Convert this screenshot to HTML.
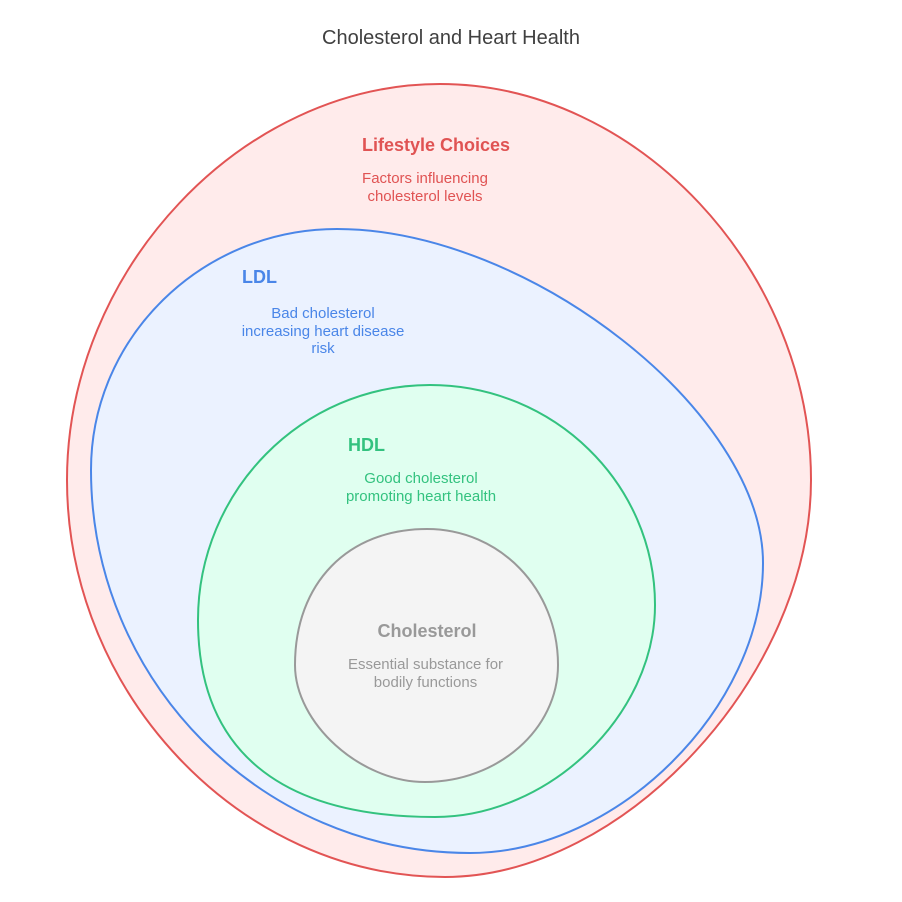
<!DOCTYPE html>
<html>
<head>
<meta charset="utf-8">
<style>
  html, body { margin: 0; padding: 0; background: #ffffff; }
  svg { display: block; }
  text { font-family: "Liberation Sans", Arial, sans-serif; }
</style>
</head>
<body>
<svg width="902" height="902" viewBox="0 0 902 902" xmlns="http://www.w3.org/2000/svg">
  <rect width="902" height="902" fill="#ffffff"/>

  <text x="451" y="44" font-size="20" fill="#404040" text-anchor="middle">Cholesterol and Heart Health</text>

  <!-- Lifestyle Choices (red) -->
  <path d="M440,84 C637,84 811,270 811,480 C811,675 624,877 445,877 C241,877 67,694 67,480 C67,270 242,84 440,84 Z"
        fill="#FFEBEB" stroke="#E25454" stroke-width="2"/>

  <!-- LDL (blue) -->
  <path d="M337,229 C529,229 763,413 763,563 C763,708 617,853 470,853 C262,853 91,681 91,470 C91,337 202,229 337,229 Z"
        fill="#EBF2FF" stroke="#4A86E8" stroke-width="2"/>

  <!-- HDL (green) -->
  <path d="M430,385 C554,385 655,484 655,605 C655,715 549,817 435,817 C279,817 198,750 198,620 C198,491 302,385 430,385 Z"
        fill="#E0FFF0" stroke="#33C27F" stroke-width="2"/>

  <!-- Cholesterol (gray) -->
  <path d="M427,529 C500,529 558,589 558,665 C558,729 498,782 425,782 C360,782 295,723 295,665 C295,583 348,529 427,529 Z"
        fill="#F4F4F4" stroke="#999999" stroke-width="2"/>

  <!-- Lifestyle labels -->
  <text x="362" y="151" font-size="18" font-weight="bold" fill="#E05353">Lifestyle Choices</text>
  <text x="425" y="183" font-size="15" fill="#E05353" text-anchor="middle">Factors influencing</text>
  <text x="425" y="201" font-size="15" fill="#E05353" text-anchor="middle">cholesterol levels</text>

  <!-- LDL labels -->
  <text x="242" y="283" font-size="18" font-weight="bold" fill="#4A86E8">LDL</text>
  <text x="323" y="318" font-size="15" fill="#4A86E8" text-anchor="middle">Bad cholesterol</text>
  <text x="323" y="336" font-size="15" fill="#4A86E8" text-anchor="middle">increasing heart disease</text>
  <text x="323" y="353" font-size="15" fill="#4A86E8" text-anchor="middle">risk</text>

  <!-- HDL labels -->
  <text x="348" y="451" font-size="18" font-weight="bold" fill="#33C27F">HDL</text>
  <text x="421" y="483" font-size="15" fill="#33C27F" text-anchor="middle">Good cholesterol</text>
  <text x="421" y="501" font-size="15" fill="#33C27F" text-anchor="middle">promoting heart health</text>

  <!-- Cholesterol labels -->
  <text x="427" y="637" font-size="18" font-weight="bold" fill="#999999" text-anchor="middle">Cholesterol</text>
  <text x="425.5" y="669" font-size="15" fill="#999999" text-anchor="middle">Essential substance for</text>
  <text x="425.5" y="687" font-size="15" fill="#999999" text-anchor="middle">bodily functions</text>
</svg>
</body>
</html>
